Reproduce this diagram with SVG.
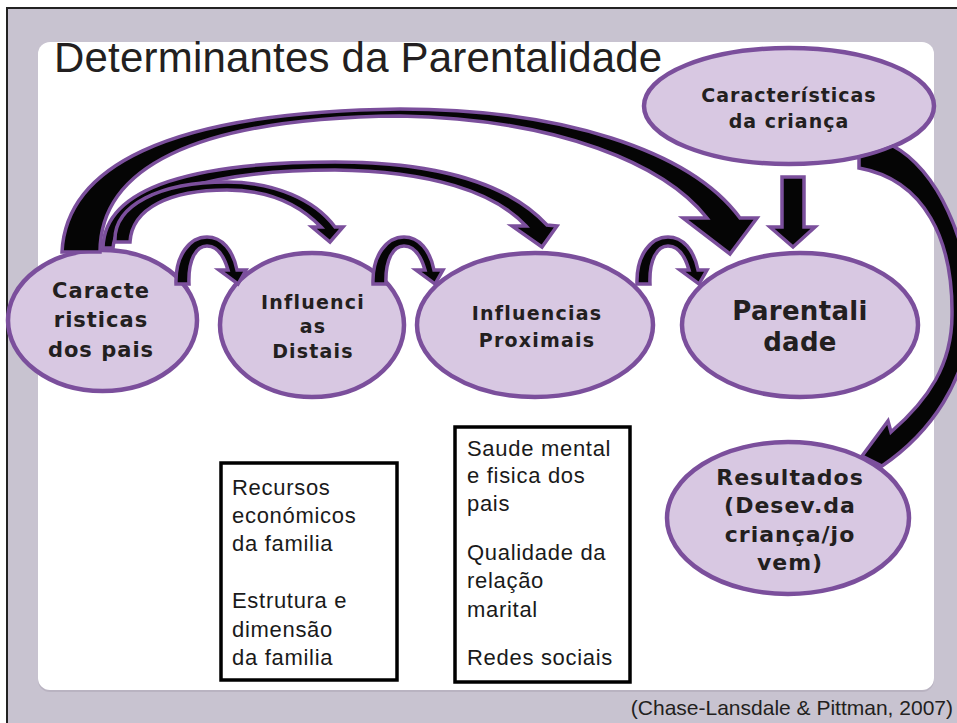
<svg xmlns="http://www.w3.org/2000/svg" xmlns:xlink="http://www.w3.org/1999/xlink" width="957" height="723" viewBox="0 0 957 723">
<style>
.node{fill:#d8c8e2;stroke:#7b4f9c;stroke-width:4.5}
.lbl{font-family:"DejaVu Sans",Verdana,sans-serif;font-weight:bold;fill:#231f20;text-anchor:middle}
.arr{fill:#050505;stroke:#7b4f9c;stroke-width:3.5;stroke-linejoin:miter}
.box{fill:#ffffff;stroke:#000000;stroke-width:3.5}
.btxt{font-family:"Liberation Sans",Arial,sans-serif;font-size:22px;letter-spacing:0.7px;fill:#1a1a1a}
</style>
<defs>
<path id="hump" d="M176,284 C175,255 190,237 207,237 C222,237 233,250 237,270 L246,270 L238,284 L219,270 L228,270 C224,256 217,246 207,246 C196,246 188,260 189,284 Z"/>
</defs>
<rect x="0" y="0" width="957" height="723" fill="#ffffff"/>
<rect x="7" y="8" width="970" height="740" fill="#c8c3d0" stroke="#222222" stroke-width="2"/>
<rect x="38" y="44" width="896" height="648" rx="12" fill="#b9b3c1"/>
<rect x="38" y="42" width="896" height="648" rx="12" fill="#ffffff"/>
<text x="54" y="72" font-family="'Liberation Sans',Arial,sans-serif" font-size="42" letter-spacing="0.2" fill="#231f20">Determinantes da Parentalidade</text>
<text x="953" y="715" font-family="'Liberation Sans',Arial,sans-serif" font-size="21" fill="#231f20" text-anchor="end">(Chase-Lansdale &amp; Pittman, 2007)</text>

<g id="pais">
<ellipse class="node" cx="102.5" cy="320.5" rx="94.5" ry="70.5"/>
<text class="lbl" font-size="21" letter-spacing="1"><tspan x="101" y="298">Caracte</tspan><tspan x="101" y="327">risticas</tspan><tspan x="101" y="357">dos pais</tspan></text>
</g>
<g id="distais">
<ellipse class="node" cx="312" cy="325" rx="92" ry="72"/>
<text class="lbl" font-size="19" letter-spacing="1.2"><tspan x="313" y="309">Influenci</tspan><tspan x="313" y="333">as</tspan><tspan x="313" y="358">Distais</tspan></text>
</g>
<g id="proximais">
<ellipse class="node" cx="535" cy="325" rx="118" ry="72"/>
<text class="lbl" font-size="19" letter-spacing="1.2"><tspan x="537" y="320">Influencias</tspan><tspan x="537" y="347">Proximais</tspan></text>
</g>
<g id="parentalidade">
<ellipse class="node" cx="800" cy="325" rx="118" ry="72"/>
<text class="lbl" font-size="26" letter-spacing="0.3"><tspan x="800" y="320">Parentali</tspan><tspan x="800" y="351">dade</tspan></text>
</g>
<g id="crianca">
<ellipse class="node" cx="789" cy="106" rx="145" ry="58"/>
<text class="lbl" font-size="19" letter-spacing="1"><tspan x="789" y="102">Características</tspan><tspan x="789" y="128">da criança</tspan></text>
</g>
<g id="resultados">
<ellipse class="node" cx="788" cy="518" rx="121" ry="76"/>
<text class="lbl" font-size="22" letter-spacing="1"><tspan x="790" y="485">Resultados</tspan><tspan x="790" y="513">(Desev.da</tspan><tspan x="790" y="542">criança/jo</tspan><tspan x="790" y="570">vem)</tspan></text>
</g>

<g id="connectors">
<path class="arr" d="M62,252 C66,170 160,112 400,109 C560,109 690,150 740,218 L757,218 L730,254 L683,218 L707,218 C665,165 560,119 400,116 C190,118 100,170 100,252 Z"/>
<path class="arr" d="M103,248 C104,185 200,162 335,162 C440,162 510,185 547,225 L557,226 L542,247 L512,226 L526,226 C495,192 430,171 335,170 C215,170 118,195 113,248 Z"/>
<path class="arr" d="M115,242 C113,205 160,182 227,182 C275,182 315,200 335,227 L343,227 L330,242 L312,227 L321,227 C300,205 270,190 227,190 C170,190 132,208 130,242 Z"/>
<use xlink:href="#hump" href="#hump" class="arr"/>
<use xlink:href="#hump" href="#hump" class="arr" transform="translate(197,0)"/>
<use xlink:href="#hump" href="#hump" class="arr" transform="translate(461,0)"/>
<path class="arr" d="M782,177 L804,177 L804,227 L815,227 L793,247 L770,227 L782,227 Z"/>
<path class="arr" d="M859,157 Q877,153 893,146 C935,168 972,240 970,320 C966,380 932,432 882,466 L862,456 L888,421 L891,432 C928,400 952,365 952,315 C953,240 925,180 859,168 Z"/>
</g>

<g id="box-distais">
<rect class="box" x="221" y="463" width="176" height="217"/>
<text class="btxt"><tspan x="232" y="495">Recursos</tspan><tspan x="232" y="523">económicos</tspan><tspan x="232" y="551">da familia</tspan><tspan x="232" y="608">Estrutura e</tspan><tspan x="232" y="637">dimensão</tspan><tspan x="232" y="665">da familia</tspan></text>
</g>
<g id="box-proximais">
<rect class="box" x="455" y="427" width="175" height="255"/>
<text class="btxt"><tspan x="467" y="456">Saude mental</tspan><tspan x="467" y="483">e fisica dos</tspan><tspan x="467" y="511">pais</tspan><tspan x="467" y="560">Qualidade da</tspan><tspan x="467" y="588">relação</tspan><tspan x="467" y="617">marital</tspan><tspan x="467" y="665">Redes sociais</tspan></text>
</g>
</svg>
